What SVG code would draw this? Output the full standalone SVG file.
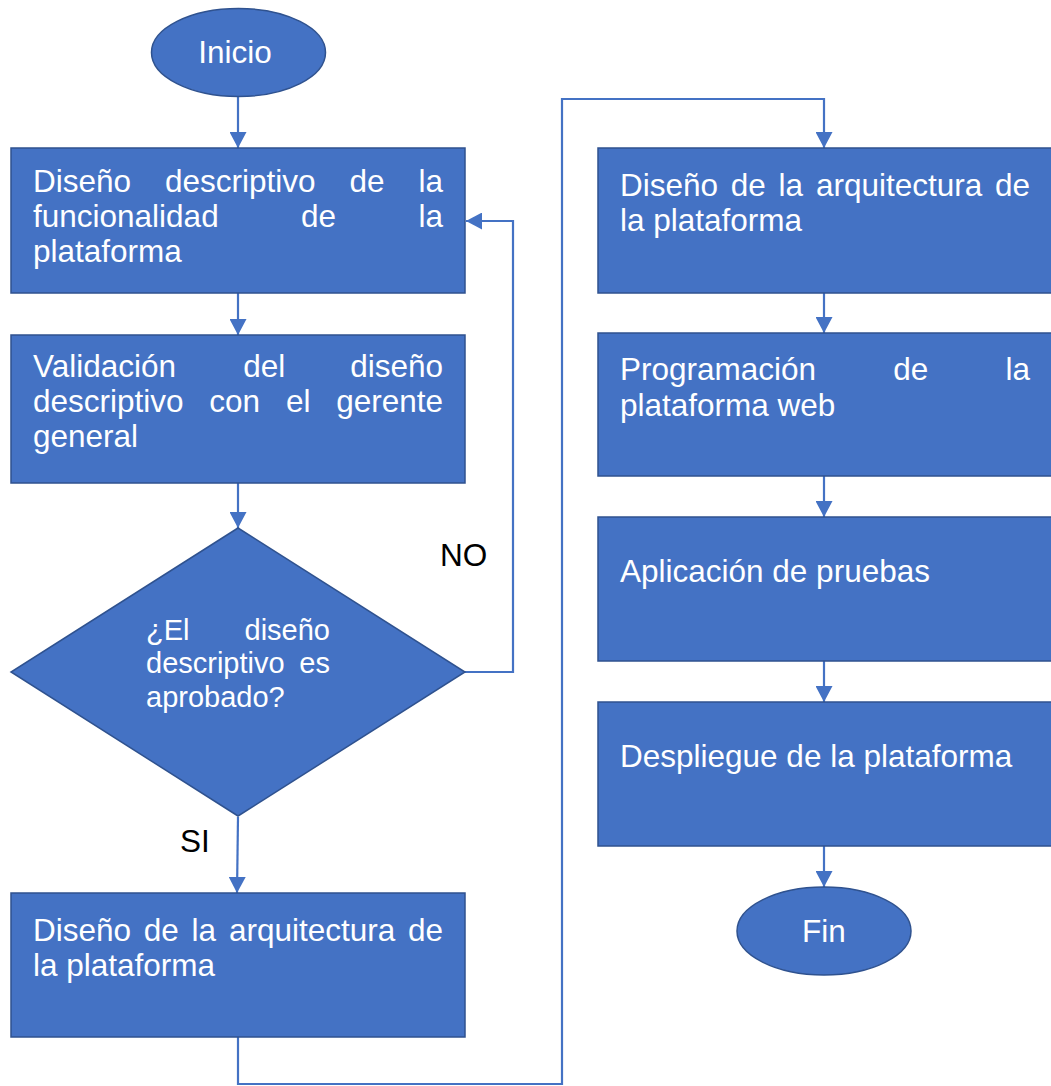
<svg xmlns="http://www.w3.org/2000/svg" width="1051" height="1086" viewBox="0 0 1051 1086">
  <style>
    .shape { fill: #4472C4; stroke: #2F528F; stroke-width: 1.5; }
    .t { font-family: "Liberation Sans", Arial, sans-serif; font-size: 31.5px; fill: #FFFFFF; }
    .td { font-family: "Liberation Sans", Arial, sans-serif; font-size: 29px; fill: #FFFFFF; }
    .lbl { font-family: "Liberation Sans", Arial, sans-serif; font-size: 31.5px; fill: #000000; }
    .end { text-anchor: end; }
    .mid { text-anchor: middle; }
    .conn { fill: none; stroke: #4472C4; stroke-width: 2.2; marker-end: url(#arrow); }
  </style>
  <defs>
    <marker id="arrow" markerUnits="userSpaceOnUse" markerWidth="17" markerHeight="17" refX="16" refY="8.5" orient="auto">
      <path d="M0,0 L16,8.5 L0,17 Z" fill="#4472C4"/>
    </marker>
  </defs>
  <rect width="1051" height="1086" fill="#FFFFFF"/>

  <!-- connectors -->
  <g id="connectors">
    <path class="conn" d="M238,97 V148"/>
    <path class="conn" d="M238,293 V335"/>
    <path class="conn" d="M238,483 V528"/>
    <path class="conn" d="M238,817 L237,893"/>
    <path class="conn" d="M465,672 H513 V221 H466"/>
    <path class="conn" d="M238,1037 V1084 H562 V99 H824 V148"/>
    <path class="conn" d="M824,293 V333"/>
    <path class="conn" d="M824,476 V517"/>
    <path class="conn" d="M824,661 V702"/>
    <path class="conn" d="M824,846 V887"/>
  </g>

  <!-- left column -->
  <g id="inicio">
    <ellipse class="shape" cx="238.5" cy="52.5" rx="87" ry="44"/>
    <text class="t mid" x="235" y="63">Inicio</text>
  </g>

  <g id="diseno-descriptivo">
    <rect class="shape" x="11" y="148" width="454" height="145"/>
    <text class="t" y="192"><tspan x="33">Diseño</tspan><tspan x="165">descriptivo</tspan><tspan x="349.5">de</tspan><tspan x="418.5">la</tspan></text>
    <text class="t" y="227"><tspan x="33">funcionalidad</tspan><tspan x="301">de</tspan><tspan x="418.5">la</tspan></text>
    <text class="t" x="33" y="262">plataforma</text>
  </g>

  <g id="validacion">
    <rect class="shape" x="11" y="335" width="454" height="148"/>
    <text class="t" y="377"><tspan x="33">Validación</tspan><tspan x="243.3">del</tspan><tspan x="350.2">diseño</tspan></text>
    <text class="t" y="412"><tspan x="33">descriptivo</tspan><tspan x="209.3">con</tspan><tspan x="285.9">el</tspan><tspan x="336.2">gerente</tspan></text>
    <text class="t" x="33" y="447">general</text>
  </g>

  <g id="decision">
    <polygon class="shape" points="238,528 465,672 238,816 11,672"/>
    <text class="td" y="640"><tspan x="146">¿El</tspan><tspan x="330" class="end">diseño</tspan></text>
    <text class="td" y="673"><tspan x="146">descriptivo</tspan><tspan x="330" class="end">es</tspan></text>
    <text class="td" x="146" y="707">aprobado?</text>
  </g>

  <g id="label-no">
    <text class="lbl" x="440" y="566">NO</text>
  </g>
  <g id="label-si">
    <text class="lbl" x="180" y="852">SI</text>
  </g>

  <g id="arquitectura-izq">
    <rect class="shape" x="11" y="893" width="454" height="144"/>
    <text class="t" y="941"><tspan x="33">Diseño</tspan><tspan x="143.8">de</tspan><tspan x="191.6">la</tspan><tspan x="228.9">arquitectura</tspan><tspan x="443" class="end">de</tspan></text>
    <text class="t" x="33" y="976">la plataforma</text>
  </g>

  <!-- right column -->
  <g id="arquitectura-der">
    <rect class="shape" x="598" y="148" width="456" height="145"/>
    <text class="t" y="196"><tspan x="620">Diseño</tspan><tspan x="730.8">de</tspan><tspan x="778.6">la</tspan><tspan x="815.9">arquitectura</tspan><tspan x="1030" class="end">de</tspan></text>
    <text class="t" x="620" y="231">la plataforma</text>
  </g>

  <g id="programacion">
    <rect class="shape" x="598" y="333" width="456" height="143"/>
    <text class="t" y="380"><tspan x="620">Programación</tspan><tspan x="893.3">de</tspan><tspan x="1030" class="end">la</tspan></text>
    <text class="t" x="620" y="416">plataforma web</text>
  </g>

  <g id="pruebas">
    <rect class="shape" x="598" y="517" width="456" height="144"/>
    <text class="t" x="620" y="582">Aplicación de pruebas</text>
  </g>

  <g id="despliegue">
    <rect class="shape" x="598" y="702" width="456" height="144"/>
    <text class="t" x="620" y="767">Despliegue de la plataforma</text>
  </g>

  <g id="fin">
    <ellipse class="shape" cx="824" cy="931" rx="87" ry="44"/>
    <text class="t mid" x="824" y="942">Fin</text>
  </g>
</svg>
